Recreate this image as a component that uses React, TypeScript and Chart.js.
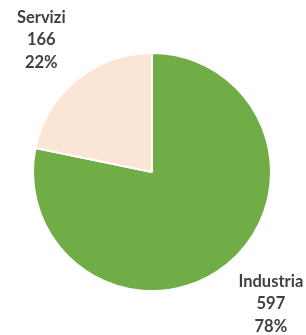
import React, { useEffect, useRef } from "react";
import { Chart, registerables } from "chart.js";

Chart.register(...registerables);

const categories = ["Industria", "Servizi"];
const values = [597, 166];
const percentLabels = ["78%", "22%"];
const colors = ["#70AD47", "#FBE5D6"];

const labelPlugin = {
  id: "outerLabels",
  afterDraw(chart: any) {
    const ctx = chart.ctx;
    const meta = chart.getDatasetMeta(0);
    ctx.save();
    ctx.font = "bold 16.5px Lato, 'Liberation Sans', sans-serif";
    ctx.fillStyle = "#404040";
    ctx.textBaseline = "middle";
    meta.data.forEach((arc: any, i: number) => {
      const mid = (arc.startAngle + arc.endAngle) / 2;
      const R = arc.outerRadius;
      const cosA = Math.cos(mid);
      const sinA = Math.sin(mid);
      const lines = [categories[i], String(values[i]), percentLabels[i]];
      const widths = lines.map((t) => ctx.measureText(t).width);
      const maxW = Math.max(...widths);
      // near edge of the label block sits just outside the arc
      const edgeX = arc.x + cosA * R * 1.15;
      const cx = cosA < 0 ? edgeX - maxW / 2 : edgeX + maxW / 2;
      const cy = arc.y + sinA * R * 1.43;
      const lh = 22.5;
      ctx.textAlign = "center";
      lines.forEach((t, j) => {
        ctx.fillText(t, cx, cy + (j - 1) * lh);
      });
    });
    ctx.restore();
  },
};

export default function App() {
  const ref = useRef<HTMLCanvasElement>(null);
  useEffect(() => {
    if (!ref.current) return;
    const chart = new Chart(ref.current, {
      type: "pie",
      data: {
        labels: categories,
        datasets: [
          {
            data: values,
            backgroundColor: colors,
            borderColor: "#FFFFFF",
            borderWidth: 2,
          },
        ],
      },
      options: {
        animation: false,
        responsive: false,
        maintainAspectRatio: false,
        layout: { padding: { left: 32, right: 34, top: 52, bottom: 43 } },
        plugins: {
          legend: { display: false },
          tooltip: { enabled: false },
        },
      },
      plugins: [labelPlugin],
    });
    return () => chart.destroy();
  }, []);
  return (
    <div style={{ position: "absolute", left: 0, top: 0, width: 306, height: 335, background: "#fff" }}>
      <canvas ref={ref} width={306} height={335} style={{ width: 306, height: 335 }} />
    </div>
  );
}
